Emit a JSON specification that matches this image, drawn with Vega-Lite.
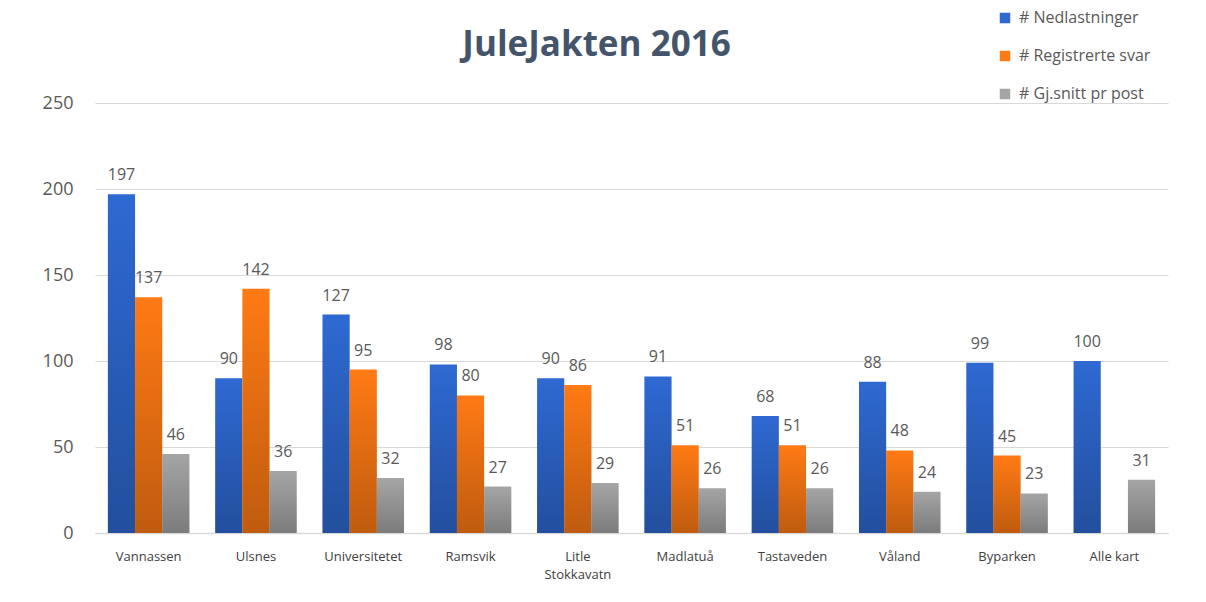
{
  "$schema": "https://vega.github.io/schema/vega-lite/v6.json",
  "width": 1073,
  "height": 430,
  "autosize": "none",
  "padding": {"left": 95, "top": 103, "right": 38, "bottom": 69},
  "background": "white",
  "title": {
    "text": "JuleJakten 2016",
    "fontSize": 35,
    "font": "Open Sans",
    "fontWeight": "bold",
    "color": "#44546A",
    "anchor": "middle",
    "baseline": "alphabetic",
    "dx": -35,
    "offset": 0,
    "dy": 81
  },
  "data": {
    "values": [
      {"sted": "Vannassen", "serie": "# Nedlastninger", "verdi": 197},
      {"sted": "Vannassen", "serie": "# Registrerte svar", "verdi": 137},
      {"sted": "Vannassen", "serie": "# Gj.snitt pr post", "verdi": 46},
      {"sted": "Ulsnes", "serie": "# Nedlastninger", "verdi": 90},
      {"sted": "Ulsnes", "serie": "# Registrerte svar", "verdi": 142},
      {"sted": "Ulsnes", "serie": "# Gj.snitt pr post", "verdi": 36},
      {"sted": "Universitetet", "serie": "# Nedlastninger", "verdi": 127},
      {"sted": "Universitetet", "serie": "# Registrerte svar", "verdi": 95},
      {"sted": "Universitetet", "serie": "# Gj.snitt pr post", "verdi": 32},
      {"sted": "Ramsvik", "serie": "# Nedlastninger", "verdi": 98},
      {"sted": "Ramsvik", "serie": "# Registrerte svar", "verdi": 80},
      {"sted": "Ramsvik", "serie": "# Gj.snitt pr post", "verdi": 27},
      {"sted": "Litle Stokkavatn", "serie": "# Nedlastninger", "verdi": 90},
      {"sted": "Litle Stokkavatn", "serie": "# Registrerte svar", "verdi": 86},
      {"sted": "Litle Stokkavatn", "serie": "# Gj.snitt pr post", "verdi": 29},
      {"sted": "Madlatuå", "serie": "# Nedlastninger", "verdi": 91},
      {"sted": "Madlatuå", "serie": "# Registrerte svar", "verdi": 51},
      {"sted": "Madlatuå", "serie": "# Gj.snitt pr post", "verdi": 26},
      {"sted": "Tastaveden", "serie": "# Nedlastninger", "verdi": 68},
      {"sted": "Tastaveden", "serie": "# Registrerte svar", "verdi": 51},
      {"sted": "Tastaveden", "serie": "# Gj.snitt pr post", "verdi": 26},
      {"sted": "Våland", "serie": "# Nedlastninger", "verdi": 88},
      {"sted": "Våland", "serie": "# Registrerte svar", "verdi": 48},
      {"sted": "Våland", "serie": "# Gj.snitt pr post", "verdi": 24},
      {"sted": "Byparken", "serie": "# Nedlastninger", "verdi": 99},
      {"sted": "Byparken", "serie": "# Registrerte svar", "verdi": 45},
      {"sted": "Byparken", "serie": "# Gj.snitt pr post", "verdi": 23},
      {"sted": "Alle kart", "serie": "# Nedlastninger", "verdi": 100},
      {"sted": "Alle kart", "serie": "# Gj.snitt pr post", "verdi": 31}
    ]
  },
  "encoding": {
    "x": {
      "field": "sted",
      "type": "nominal",
      "sort": null,
      "scale": {"paddingInner": 0.24, "paddingOuter": 0.12},
      "axis": {
        "title": null,
        "labelAngle": 0,
        "labelFont": "Open Sans",
        "labelFontSize": 13,
        "labelColor": "#404040",
        "labelPadding": 17,
        "labelLineHeight": 18,
        "ticks": false,
        "domainColor": "#D9D9D9",
        "domainWidth": 1.5,
        "labelExpr": "datum.value == 'Litle Stokkavatn' ? ['Litle', 'Stokkavatn'] : datum.value"
      }
    },
    "xOffset": {
      "field": "serie",
      "type": "nominal",
      "sort": ["# Nedlastninger", "# Registrerte svar", "# Gj.snitt pr post"],
      "scale": {"domain": ["# Nedlastninger", "# Registrerte svar", "# Gj.snitt pr post"], "paddingInner": 0, "paddingOuter": 0}
    },
    "y": {
      "field": "verdi",
      "type": "quantitative",
      "scale": {"domain": [0, 250]},
      "axis": {
        "title": null,
        "values": [0, 50, 100, 150, 200, 250],
        "labelFont": "Open Sans",
        "labelFontSize": 18,
        "labelColor": "#595959",
        "labelPadding": 22,
        "ticks": false,
        "domain": false,
        "gridColor": "#D9D9D9",
        "gridWidth": 1.2
      }
    }
  },
  "layer": [
    {
      "mark": {"type": "bar"},
      "encoding": {
        "color": {
          "field": "serie",
          "type": "nominal",
          "sort": ["# Nedlastninger", "# Registrerte svar", "# Gj.snitt pr post"],
          "scale": {
            "domain": ["# Nedlastninger", "# Registrerte svar", "# Gj.snitt pr post"],
            "range": ["#2E69D2", "#FF7A14", "#A5A5A5"]
          },
          "legend": {
            "title": null,
            "orient": "none",
            "legendX": 902,
            "legendY": -93,
            "symbolType": "square",
            "symbolSize": 110,
            "labelFont": "Open Sans",
            "labelFontSize": 16,
            "labelColor": "#595959",
            "rowPadding": 22,
            "labelOffset": 6
          }
        }
      }
    },
    {
      "mark": {
        "type": "bar",
        "fill": {
          "gradient": "linear",
          "x1": 0, "y1": 0, "x2": 0, "y2": 1,
          "stops": [
            {"offset": 0, "color": "rgba(0,0,0,0)"},
            {"offset": 1, "color": "rgba(0,0,0,0.25)"}
          ]
        }
      },
      "encoding": {}
    },
    {
      "mark": {
        "type": "text",
        "baseline": "bottom",
        "dy": -11,
        "font": "Open Sans",
        "fontSize": 16,
        "color": "#595959"
      },
      "encoding": {
        "text": {"field": "verdi", "type": "quantitative"}
      }
    }
  ],
  "config": {
    "view": {"stroke": null}
  }
}
